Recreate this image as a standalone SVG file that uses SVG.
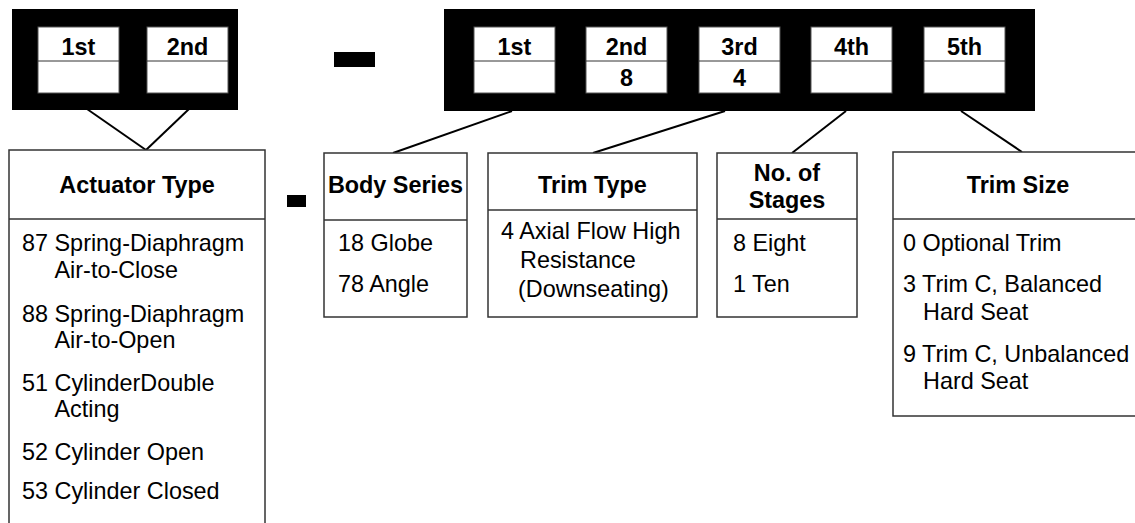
<svg xmlns="http://www.w3.org/2000/svg" width="1135" height="523" viewBox="0 0 1135 523">
<style>
text{font-family:"Liberation Sans",Arial,sans-serif;fill:#000}
.t{font-size:23.4px}
.b{font-size:23.4px;font-weight:bold}
.h{font-size:23.4px;font-weight:bold;text-anchor:middle}
.hd{text-anchor:middle}
.box{fill:#fff;stroke:#333;stroke-width:1.5}
.div{stroke:#333;stroke-width:1.5;fill:none}
.cdiv{stroke:#333;stroke-width:1;fill:none}
.cell{fill:#fff;stroke:#555;stroke-width:1}
.blk{fill:#000}
.conn line{stroke:#000;stroke-width:2}
</style>
<rect width="1135" height="523" fill="#fff"/>
<g id="code-left">
<rect class="blk" x="12" y="9" width="226" height="101"/>
<rect class="cell" x="38" y="27" width="81" height="66"/><line class="cdiv" x1="38" y1="61" x2="119" y2="61"/>
<text class="h" x="78.5" y="55">1st</text>
<rect class="cell" x="147" y="27" width="81" height="66"/><line class="cdiv" x1="147" y1="61" x2="228" y2="61"/>
<text class="h" x="187.5" y="55">2nd</text>
</g>
<g id="dash-top"><rect class="blk" x="334" y="52" width="41" height="15"/></g>
<g id="code-right">
<rect class="blk" x="444" y="9" width="591" height="102"/>
<rect class="cell" x="474" y="27" width="81" height="66"/><line class="cdiv" x1="474" y1="61" x2="555" y2="61"/>
<text class="h" x="514.5" y="55">1st</text>
<rect class="cell" x="586" y="27" width="81" height="66"/><line class="cdiv" x1="586" y1="61" x2="667" y2="61"/>
<text class="h" x="626.5" y="55">2nd</text><text class="h" x="626.5" y="86">8</text>
<rect class="cell" x="699" y="27" width="81" height="66"/><line class="cdiv" x1="699" y1="61" x2="780" y2="61"/>
<text class="h" x="739.5" y="55">3rd</text><text class="h" x="739.5" y="86">4</text>
<rect class="cell" x="811" y="27" width="81" height="66"/><line class="cdiv" x1="811" y1="61" x2="892" y2="61"/>
<text class="h" x="851.5" y="55">4th</text>
<rect class="cell" x="924" y="27" width="81" height="66"/><line class="cdiv" x1="924" y1="61" x2="1005" y2="61"/>
<text class="h" x="964.5" y="55">5th</text>
</g>
<g class="conn" id="connectors">
<line x1="87" y1="109" x2="146" y2="150"/>
<line x1="189" y1="109" x2="146" y2="150"/>
<line x1="512" y1="111" x2="393" y2="153"/>
<line x1="725" y1="111" x2="593" y2="153"/>
<line x1="846" y1="111" x2="792" y2="153"/>
<line x1="961" y1="111" x2="1022" y2="152"/>
</g>
<g id="actuator-type">
<rect class="box" x="9" y="150" width="256" height="390"/>
<line class="div" x1="9" y1="219" x2="265" y2="219"/>
<text class="b hd" x="137" y="193">Actuator Type</text>
<text class="t" x="22" y="251">87 Spring-Diaphragm</text>
<text class="t" x="54.5" y="278">Air-to-Close</text>
<text class="t" x="22" y="322">88 Spring-Diaphragm</text>
<text class="t" x="54.5" y="348">Air-to-Open</text>
<text class="t" x="22" y="391">51 CylinderDouble</text>
<text class="t" x="54.5" y="417">Acting</text>
<text class="t" x="22" y="460">52 Cylinder Open</text>
<text class="t" x="22" y="499">53 Cylinder Closed</text>
</g>
<g id="dash-mid"><rect class="blk" x="287" y="195" width="19" height="12"/></g>
<g id="body-series">
<rect class="box" x="324" y="153" width="143" height="164"/>
<line class="div" x1="324" y1="220" x2="467" y2="220"/>
<text class="b hd" x="395.5" y="193">Body Series</text>
<text class="t" x="338" y="251">18 Globe</text>
<text class="t" x="338" y="292">78 Angle</text>
</g>
<g id="trim-type">
<rect class="box" x="488" y="153" width="209" height="164"/>
<line class="div" x1="488" y1="210" x2="697" y2="210"/>
<text class="b hd" x="592.5" y="193">Trim Type</text>
<text class="t" x="501" y="239">4 Axial Flow High</text>
<text class="t" x="520" y="268">Resistance</text>
<text class="t" x="518" y="297">(Downseating)</text>
</g>
<g id="stages">
<rect class="box" x="717" y="153" width="140" height="164"/>
<line class="div" x1="717" y1="219" x2="857" y2="219"/>
<text class="b hd" x="787" y="181">No. of</text>
<text class="b hd" x="787" y="208">Stages</text>
<text class="t" x="733" y="251">8 Eight</text>
<text class="t" x="733" y="292">1 Ten</text>
</g>
<g id="trim-size">
<rect class="box" x="893" y="152" width="250" height="264"/>
<line class="div" x1="893" y1="219" x2="1143" y2="219"/>
<text class="b hd" x="1018" y="193">Trim Size</text>
<text class="t" x="903" y="251">0 Optional Trim</text>
<text class="t" x="903" y="292">3 Trim C, Balanced</text>
<text class="t" x="923" y="320">Hard Seat</text>
<text class="t" x="903" y="362">9 Trim C, Unbalanced</text>
<text class="t" x="923" y="389">Hard Seat</text>
</g>
</svg>
